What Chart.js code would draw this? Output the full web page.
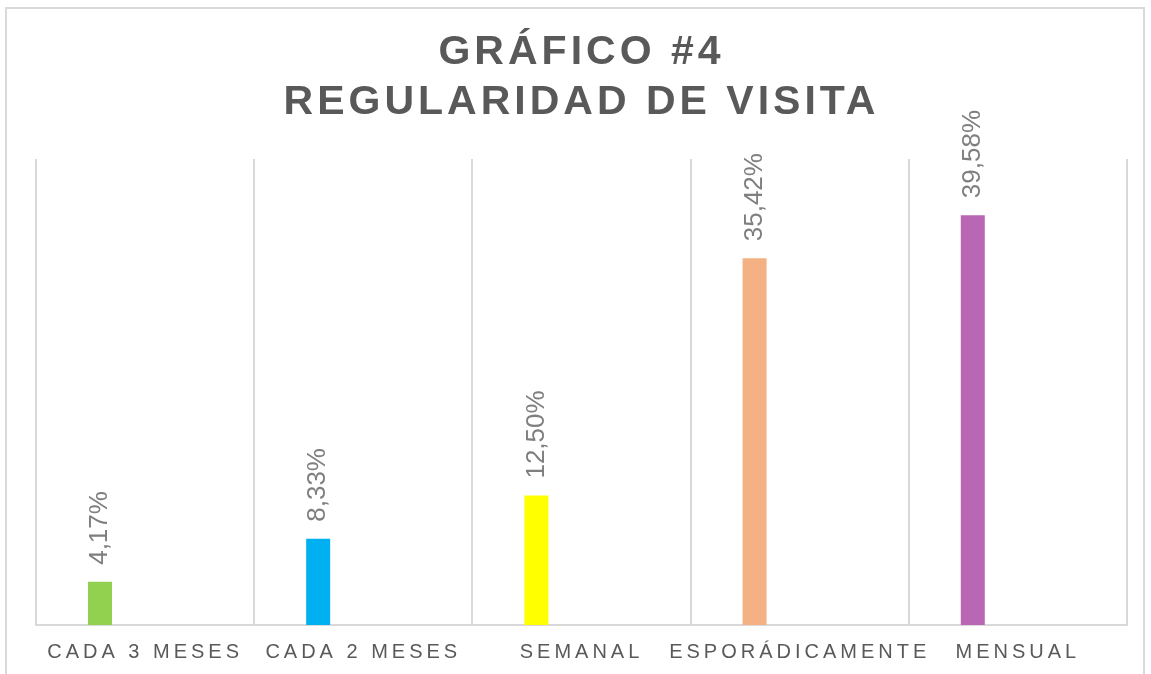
<!DOCTYPE html>
<html>
<head>
<meta charset="utf-8">
<title>Gráfico #4 - Regularidad de visita</title>
<script src="https://cdn.jsdelivr.net/npm/chart.js@4"></script>
<style>
    body { margin: 0; background: #ffffff; }
    #marco {
        position: absolute; left: 5px; top: 7px;
        width: 1140px; height: 690px;
        border: 2px solid #d9d9d9;
        box-sizing: border-box;
    }
    #grafico { position: absolute; left: 0; top: 0; }
</style>
</head>
<body>
<div id="marco"></div>
<canvas id="grafico" width="1151" height="674"></canvas>
<script>
// datos del gráfico
const categorias = ['CADA 3 MESES', 'CADA 2 MESES', 'SEMANAL', 'ESPORÁDICAMENTE', 'MENSUAL'];
const porcentajes = [4.17, 8.33, 12.50, 35.42, 39.58];
const vacio = [null, null, null, null, null]; // segunda serie sin valores (deja el hueco a la derecha)
const colores = ['#92d050', '#00b0f0', '#ffff00', '#f4b183', '#b966b4'];
const titulo = ['GRÁFICO #4', 'REGULARIDAD DE VISITA'];

const FUENTE = '"Liberation Sans", Arial, sans-serif';

// espaciado de letras para titulo y etiquetas del eje
const espaciado = {
    id: 'espaciado',
    beforeDraw(chart) {
        chart.ctx.letterSpacing = '4px';
    }
};

// etiquetas de datos verticales encima de cada barra
const etiquetas = {
    id: 'etiquetas',
    afterDatasetsDraw(chart) {
        const ctx = chart.ctx;
        const meta = chart.getDatasetMeta(0);
        ctx.save();
        ctx.letterSpacing = '0px';
        ctx.fillStyle = '#7f7f7f';
        ctx.font = '26px ' + FUENTE;
        ctx.textAlign = 'left';
        ctx.textBaseline = 'middle';
        meta.data.forEach((bar, i) => {
            const txt = porcentajes[i].toFixed(2).replace('.', ',') + '%';
            ctx.save();
            ctx.translate(bar.x, bar.y - 17);
            ctx.rotate(-Math.PI / 2);
            ctx.fillText(txt, 0, 0);
            ctx.restore();
        });
        ctx.restore();
    }
};

const ctx = document.getElementById('grafico').getContext('2d');

new Chart(ctx, {
    type: 'bar',
    data: {
        labels: categorias,
        datasets: [
            {
                label: 'Porcentaje',
                data: porcentajes,
                backgroundColor: colores,
                categoryPercentage: 0.827,
                barPercentage: 0.266
            },
            {
                label: '',
                data: vacio,
                backgroundColor: 'rgba(0,0,0,0)',
                categoryPercentage: 0.827,
                barPercentage: 0.266
            }
        ]
    },
    options: {
        responsive: false,
        animation: false,
        layout: {
            padding: { left: 36, right: 24, top: 0, bottom: -5 }
        },
        scales: {
            x: {
                grid: {
                    color: '#d9d9d9',
                    lineWidth: 2,
                    drawTicks: false
                },
                border: { color: '#d9d9d9', width: 2 },
                ticks: {
                    color: '#595959',
                    font: { family: FUENTE, size: 20 },
                    padding: 15,
                    maxRotation: 0,
                    autoSkip: false
                }
            },
            y: {
                display: false,
                min: 0,
                max: 45
            }
        },
        plugins: {
            legend: { display: false },
            tooltip: { enabled: false },
            title: {
                display: true,
                text: titulo,
                color: '#595959',
                font: { family: FUENTE, size: 41, weight: 'bold', lineHeight: 1.22 },
                padding: { top: 28, bottom: 31 }
            }
        }
    },
    plugins: [espaciado, etiquetas]
});
</script>
</body>
</html>
